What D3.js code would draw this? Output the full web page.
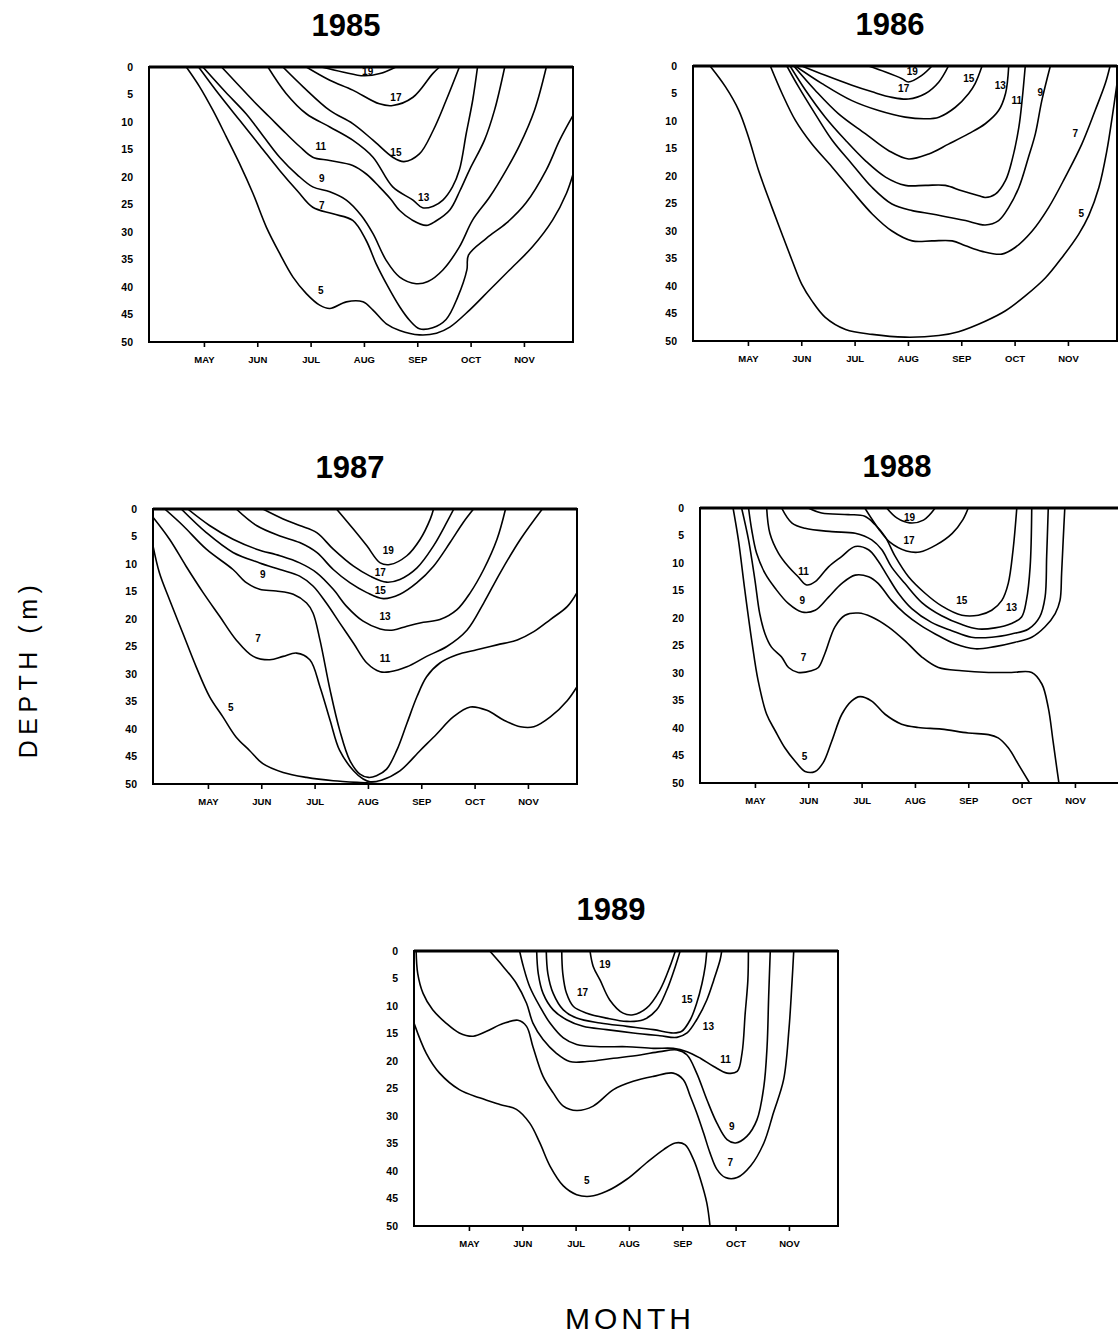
<!DOCTYPE html>
<html>
<head>
<meta charset="utf-8">
<script src="https://cdn.jsdelivr.net/npm/d3@7/dist/d3.min.js"></script>
<style>
  html, body { margin: 0; padding: 0; background: #fff; }
  svg { display: block; }
</style>
</head>
<body>
<svg id="chart" width="1118" height="1337"></svg>
<script>
// ---------- shared axis data ----------
const monthLabels = ["MAY", "JUN", "JUL", "AUG", "SEP", "OCT", "NOV"];
const monthTicks = [5, 6, 7, 8, 9, 10, 11];          // month number (May = 5)
const monthDomain = [3.97, 11.92];                     // Apr 1 .. end of Nov
const depthTicks = [0, 5, 10, 15, 20, 25, 30, 35, 40, 45, 50];
const depthDomain = [0, 50];
const years = [1985, 1986, 1987, 1988, 1989];

// ---------- isotherms, [month, depth m] ----------
// 1985
const y1985_t5 = [[4.67,0],[4.92,3.6],[5.17,7.9],[5.42,12.7],[5.67,17.6],[5.92,23.0],[6.17,29.1],[6.42,33.9],[6.67,38.2],[6.92,41.2],[7.17,43.3],[7.36,43.9],[7.67,42.7],[7.98,42.7],[8.17,44.2],[8.42,46.7],[8.67,47.9],[9.04,48.7],[9.36,48.4],[9.61,47.3],[9.98,44.2],[10.36,40.5],[10.73,36.9],[11.16,32.7],[11.54,27.8],[11.80,22.9],[11.92,19.5]];
const y1985_t7 = [[4.90,0],[5.30,5.2],[5.67,9.7],[6.05,14.3],[6.42,18.8],[6.75,22.5],[7.04,25.5],[7.42,26.7],[7.79,27.9],[8.04,31.5],[8.23,35.8],[8.42,39.4],[8.67,43.6],[8.86,46.1],[9.04,47.6],[9.29,47.4],[9.54,45.9],[9.76,41.8],[9.93,36.9],[9.96,34.2],[10.30,31.1],[10.67,28.4],[11.04,24.7],[11.42,18.7],[11.67,13.3],[11.92,8.8]];
const y1985_t9 = [[4.98,0],[5.40,4.5],[5.79,8.5],[6.10,12.4],[6.42,16.4],[6.75,19.6],[7.04,21.8],[7.36,22.7],[7.67,24.2],[7.95,27.0],[8.17,30.3],[8.42,35.2],[8.67,38.2],[8.98,39.4],[9.20,39.0],[9.48,36.9],[9.79,32.7],[10.04,27.8],[10.36,23.6],[10.67,18.7],[10.92,14.2],[11.20,7.8],[11.42,0]];
const y1985_t11 = [[5.33,0],[5.62,3.0],[5.92,6.1],[6.23,9.1],[6.54,12.1],[6.80,14.5],[7.04,16.4],[7.36,17.0],[7.79,17.9],[8.05,19.5],[8.29,21.8],[8.50,24.0],[8.67,26.1],[8.90,27.8],[9.17,28.8],[9.35,28.0],[9.61,26.0],[9.80,22.5],[9.98,18.7],[10.26,13.3],[10.45,7.8],[10.64,0]];
const y1985_t13 = [[6.20,0],[6.54,4.8],[6.92,8.5],[7.36,10.9],[7.79,13.3],[8.17,16.4],[8.54,21.8],[8.92,24.2],[9.10,25.6],[9.30,25.3],[9.48,24.2],[9.66,21.8],[9.79,18.7],[9.92,12.0],[10.04,6.0],[10.13,0]];
const y1985_t15 = [[6.48,0],[6.86,3.6],[7.36,7.9],[7.79,10.3],[8.17,13.3],[8.54,16.4],[8.75,17.2],[9.04,15.8],[9.30,11.5],[9.54,6.1],[9.79,0]];
const y1985_t17 = [[6.92,0],[7.36,2.4],[7.79,4.2],[8.29,6.7],[8.54,7.0],[8.92,5.5],[9.29,1.2],[9.42,0]];
const y1985_t19 = [[7.20,0],[7.60,0.9],[8.00,1.6],[8.30,1.2],[8.60,0]];
const y1985_labels = [[19,8.07,0.9],[17,8.60,5.5],[15,8.60,15.5],[13,9.12,23.8],[11,7.19,14.5],[9,7.21,20.2],[7,7.21,25.1],[5,7.19,40.7]];

// 1986
const y1986_t5 = [[4.29,0],[4.58,3.8],[4.83,8.1],[5.01,12.9],[5.20,19.0],[5.45,25.7],[5.64,30.6],[5.83,35.4],[6.01,39.7],[6.20,42.7],[6.45,45.7],[6.83,47.9],[7.33,48.8],[7.95,49.3],[8.58,49.0],[8.95,48.3],[9.45,46.4],[9.83,44.5],[10.20,41.8],[10.58,38.5],[10.89,34.8],[11.20,30.6],[11.39,27.2],[11.58,22.1],[11.73,15.4],[11.83,9.3],[11.92,3.2]];
const y1986_t7 = [[5.42,0],[5.64,5.0],[5.89,9.9],[6.20,14.2],[6.58,18.4],[6.95,22.7],[7.33,26.9],[7.70,30.0],[8.08,31.8],[8.45,31.8],[8.83,31.8],[9.08,32.7],[9.39,33.7],[9.76,34.2],[10.01,33.0],[10.33,30.0],[10.64,25.7],[10.95,20.2],[11.26,14.2],[11.51,8.1],[11.70,3.2],[11.79,0]];
const y1986_t9 = [[5.73,0],[5.95,3.8],[6.26,8.7],[6.58,13.5],[6.95,17.8],[7.33,22.1],[7.70,25.1],[8.08,26.3],[8.45,26.9],[8.76,27.5],[9.08,28.1],[9.45,28.9],[9.70,28.1],[9.89,25.7],[10.08,22.1],[10.26,16.6],[10.39,12.3],[10.51,6.3],[10.67,0]];
const y1986_t11 = [[5.79,0],[6.08,4.4],[6.45,9.3],[6.83,13.5],[7.20,17.2],[7.58,20.2],[7.95,21.7],[8.33,21.7],[8.70,21.7],[9.01,22.7],[9.33,23.6],[9.45,23.9],[9.64,23.3],[9.83,20.8],[9.95,17.2],[10.08,11.1],[10.14,6.3],[10.20,0]];
const y1986_t13 = [[5.86,0],[6.26,4.4],[6.70,8.7],[7.20,12.3],[7.64,15.4],[8.01,16.9],[8.39,16.0],[8.76,14.2],[9.14,12.3],[9.45,10.5],[9.70,8.1],[9.83,5.0],[9.89,0]];
const y1986_t15 = [[5.89,0],[6.39,3.2],[6.95,6.3],[7.45,8.1],[7.95,9.3],[8.33,9.6],[8.58,9.3],[8.89,7.5],[9.14,5.0],[9.26,3.2],[9.39,0]];
const y1986_t17 = [[6.01,0],[6.45,1.7],[6.95,3.5],[7.33,4.7],[7.70,5.7],[8.01,6.0],[8.33,5.0],[8.58,2.9],[8.76,0]];
const y1986_t19 = [[7.26,0],[7.58,1.1],[7.89,2.3],[8.01,2.9],[8.26,1.7],[8.45,0]];
const y1986_labels = [[19,8.08,1.0],[17,7.92,4.1],[15,9.14,2.3],[13,9.73,3.5],[11,10.04,6.3],[9,10.48,4.9],[7,11.14,12.3],[5,11.25,26.9]];

// 1987
const y1987_t5 = [[3.97,6.7],[4.09,11.6],[4.28,16.5],[4.53,22.6],[4.78,28.7],[5.03,34.1],[5.28,37.8],[5.53,41.5],[5.78,43.9],[6.03,46.3],[6.41,47.9],[6.85,48.8],[7.35,49.4],[7.98,49.8],[8.30,50]];
const y1987_t7 = [[3.97,1.5],[4.28,5.5],[4.59,10.4],[4.91,15.2],[5.22,19.5],[5.53,23.8],[5.85,26.8],[6.16,27.4],[6.41,26.8],[6.66,26.2],[6.91,27.4],[7.10,32.3],[7.29,38.4],[7.47,43.9],[7.73,47.6],[7.91,49.1],[8.04,49.6],[8.25,49.3],[8.60,47.6],[8.98,43.9],[9.29,40.9],[9.60,37.8],[9.92,36.0],[10.23,36.6],[10.55,38.4],[10.86,39.6],[11.11,39.6],[11.42,37.8],[11.74,34.8],[11.92,32.3]];
const y1987_t9 = [[4.19,0],[4.53,3.0],[4.97,7.3],[5.47,11.0],[5.72,13.4],[5.97,14.6],[6.28,14.9],[6.60,15.5],[6.85,17.1],[6.97,18.9],[7.10,23.8],[7.29,32.9],[7.47,40.2],[7.66,45.7],[7.85,48.2],[8.01,48.8],[8.16,48.5],[8.35,47.3],[8.54,43.9],[8.73,39.0],[8.92,34.1],[9.10,30.5],[9.35,28.0],[9.67,26.5],[10.04,25.6],[10.42,24.7],[10.80,23.8],[11.11,22.3],[11.42,20.1],[11.74,17.7],[11.92,15.2]];
const y1987_t11 = [[4.50,0],[4.97,4.3],[5.47,7.9],[5.97,9.8],[6.35,11.0],[6.72,12.2],[6.97,14.0],[7.22,17.1],[7.47,20.7],[7.73,24.4],[7.98,28.0],[8.23,29.6],[8.41,29.6],[8.73,28.7],[9.10,26.8],[9.48,25.0],[9.86,22.0],[10.17,17.1],[10.48,11.6],[10.86,5.5],[11.27,0]];
const y1987_t13 = [[4.62,0],[5.03,3.0],[5.47,5.5],[5.91,7.3],[6.35,8.5],[6.72,9.8],[7.04,11.6],[7.35,14.6],[7.60,17.7],[7.91,20.4],[8.23,21.8],[8.48,22.0],[8.73,21.3],[9.04,20.6],[9.35,20.1],[9.67,18.3],[9.92,15.2],[10.17,11.0],[10.42,5.5],[10.58,0]];
const y1987_t15 = [[5.53,0],[5.91,3.0],[6.35,4.9],[6.72,6.1],[7.04,7.9],[7.35,11.0],[7.66,13.4],[7.98,15.2],[8.29,16.3],[8.60,15.5],[8.92,13.4],[9.23,10.4],[9.54,6.1],[9.79,2.4],[9.98,0]];
const y1987_t17 = [[6.03,0],[6.41,1.8],[6.72,3.0],[7.04,4.3],[7.35,7.3],[7.73,10.4],[8.04,12.2],[8.35,13.3],[8.60,12.8],[8.92,10.7],[9.23,6.7],[9.48,2.4],[9.61,0]];
const y1987_t19 = [[7.41,0],[7.73,3.7],[7.98,6.7],[8.23,9.8],[8.41,10.1],[8.73,8.5],[8.98,5.5],[9.17,1.8],[9.23,0]];
const y1987_labels = [[19,8.38,7.6],[17,8.23,11.6],[15,8.23,14.8],[13,8.32,19.6],[11,8.32,27.1],[9,6.03,11.9],[7,5.94,23.5],[5,5.43,36.0]];

// 1988
const y1988_t5 = [[4.59,0],[4.69,5.8],[4.81,14.9],[4.94,24.1],[5.06,31.4],[5.22,37.5],[5.38,40.5],[5.56,43.6],[5.75,46.0],[5.94,47.9],[6.13,47.9],[6.28,46.3],[6.44,42.4],[6.63,37.5],[6.81,35.1],[6.97,34.3],[7.19,35.1],[7.44,37.5],[7.75,39.3],[8.06,39.9],[8.50,40.2],[9.00,40.9],[9.38,41.2],[9.56,41.8],[9.75,43.6],[9.94,46.6],[10.15,50]];
const y1988_t7 = [[4.75,0],[4.88,5.8],[5.00,13.1],[5.09,19.2],[5.19,22.9],[5.31,25.3],[5.50,27.1],[5.63,29.0],[5.81,29.9],[6.06,29.6],[6.19,29.0],[6.31,26.5],[6.50,21.6],[6.69,19.5],[6.94,19.1],[7.19,19.8],[7.50,21.6],[7.81,24.1],[8.13,27.1],[8.44,29.0],[8.88,29.6],[9.38,29.9],[9.81,29.9],[10.19,29.9],[10.38,32.0],[10.50,36.3],[10.59,42.4],[10.66,47.3],[10.70,50]];
const y1988_t9 = [[4.88,0],[4.94,4.0],[5.03,8.2],[5.19,11.9],[5.38,14.6],[5.63,17.4],[5.88,18.9],[6.13,18.6],[6.38,16.2],[6.63,13.7],[6.88,12.2],[7.13,12.5],[7.31,13.7],[7.56,16.8],[7.81,19.2],[8.10,21.3],[8.38,22.9],[8.75,24.7],[9.13,25.6],[9.50,25.2],[9.88,24.4],[10.19,23.5],[10.44,21.6],[10.63,19.2],[10.72,16.8],[10.75,11.9],[10.78,5.8],[10.81,0]];
const y1988_t11 = [[5.22,0],[5.28,4.6],[5.44,8.2],[5.63,10.7],[5.81,12.5],[5.97,14.0],[6.13,13.4],[6.38,10.7],[6.63,8.8],[6.88,7.0],[7.13,7.6],[7.30,9.5],[7.48,12.3],[7.69,15.5],[7.94,18.3],[8.31,20.8],[8.69,22.3],[9.06,23.5],[9.44,23.5],[9.81,22.9],[10.13,22.0],[10.34,19.8],[10.44,16.2],[10.47,8.8],[10.50,0]];
const y1988_t13 = [[5.50,0],[5.69,2.7],[5.94,3.7],[6.44,4.3],[6.88,4.6],[7.19,5.8],[7.38,7.6],[7.56,10.7],[7.81,13.7],[8.13,17.2],[8.50,19.6],[8.88,21.2],[9.19,22.0],[9.50,21.8],[9.81,21.0],[10.00,19.8],[10.09,16.8],[10.16,10.7],[10.19,0]];
const y1988_t15 = [[6.00,0],[6.25,0.9],[6.75,1.2],[7.06,1.5],[7.25,3.0],[7.44,5.2],[7.63,8.8],[7.88,12.5],[8.19,15.5],[8.50,17.8],[8.88,19.5],[9.19,19.5],[9.44,18.6],[9.63,16.8],[9.75,13.7],[9.84,7.6],[9.91,0]];
const y1988_t17 = [[7.06,0],[7.32,3.8],[7.53,6.2],[7.84,7.8],[8.09,8.0],[8.40,6.7],[8.70,4.6],[8.90,2.1],[9.00,0]];
const y1988_t19 = [[7.47,0],[7.66,1.8],[7.90,2.7],[8.16,2.2],[8.38,0]];
const y1988_labels = [[19,7.90,1.7],[17,7.89,5.9],[15,8.88,16.8],[13,9.81,18.0],[11,5.91,11.5],[9,5.89,16.9],[7,5.91,27.1],[5,5.93,45.1]];

// 1989
const y1989_t5 = [[3.97,13.1],[4.20,18.6],[4.45,22.2],[4.82,25.2],[5.20,26.7],[5.58,27.9],[5.89,28.8],[6.14,31.3],[6.33,34.9],[6.52,39.1],[6.77,42.7],[7.02,44.3],[7.27,44.6],[7.58,43.7],[7.96,41.5],[8.33,38.5],[8.65,36.1],[8.87,34.9],[9.05,35.2],[9.21,37.9],[9.34,41.5],[9.46,45.8],[9.52,50]];
const y1989_t7 = [[4.01,0],[4.04,4.1],[4.14,7.7],[4.32,10.7],[4.57,13.1],[4.82,14.9],[5.08,15.5],[5.33,14.6],[5.64,13.2],[5.92,12.6],[6.08,13.7],[6.20,17.4],[6.39,22.8],[6.58,25.8],[6.77,28.2],[7.02,29.0],[7.33,28.2],[7.71,25.2],[8.08,23.7],[8.46,22.8],[8.83,22.2],[9.02,23.4],[9.15,26.4],[9.27,29.4],[9.40,33.1],[9.52,36.7],[9.65,39.7],[9.81,41.2],[10.03,41.2],[10.28,39.1],[10.53,34.9],[10.71,29.4],[10.90,23.4],[11.00,14.3],[11.06,5.3],[11.09,0]];
const y1989_t9 = [[5.39,0],[5.64,2.8],[5.89,5.9],[6.08,9.5],[6.20,13.1],[6.39,16.1],[6.64,18.6],[6.89,20.1],[7.21,20.1],[7.71,19.5],[8.21,18.9],[8.58,18.3],[8.90,18.0],[9.09,18.9],[9.27,22.2],[9.46,27.0],[9.65,31.3],[9.84,34.3],[10.00,34.9],[10.21,33.7],[10.40,30.7],[10.53,24.6],[10.59,17.4],[10.62,8.3],[10.65,0]];
const y1989_t11 = [[5.95,0],[6.02,2.8],[6.14,6.5],[6.33,10.1],[6.52,13.1],[6.77,15.8],[7.02,17.0],[7.46,17.4],[7.96,17.4],[8.46,17.7],[8.83,17.7],[9.09,18.3],[9.34,19.5],[9.59,21.0],[9.84,22.2],[10.03,21.9],[10.12,18.6],[10.18,11.3],[10.23,5.3],[10.24,0]];
const y1989_t13 = [[6.27,0],[6.30,4.1],[6.39,7.7],[6.58,10.7],[6.83,12.5],[7.14,13.7],[7.58,14.3],[8.08,14.9],[8.58,15.4],[8.90,15.7],[9.09,14.9],[9.27,12.5],[9.46,8.9],[9.59,5.3],[9.71,1.6],[9.74,0]];
const y1989_t15 = [[6.45,0],[6.48,4.1],[6.58,7.7],[6.77,10.7],[7.02,12.2],[7.46,13.1],[7.96,13.7],[8.46,14.3],[8.83,14.9],[8.99,14.6],[9.15,12.5],[9.27,9.5],[9.37,5.9],[9.43,2.8],[9.46,0]];
const y1989_t17 = [[6.74,0],[6.76,4.1],[6.83,7.7],[6.96,10.1],[7.21,11.3],[7.58,12.2],[7.96,12.8],[8.27,12.5],[8.52,10.7],[8.71,7.1],[8.87,2.8],[8.96,0]];
const y1989_t19 = [[7.27,0],[7.33,2.8],[7.46,5.3],[7.64,8.9],[7.89,11.3],[8.08,11.6],[8.33,10.4],[8.58,7.1],[8.77,2.8],[8.87,0]];
const y1989_labels = [[19,7.55,2.4],[17,7.13,7.6],[15,9.09,8.9],[13,9.49,13.7],[11,9.81,19.8],[9,9.93,31.9],[7,9.90,38.5],[5,7.21,41.8]];

const isotherms = {
  1985: [y1985_t5, y1985_t7, y1985_t9, y1985_t11, y1985_t13, y1985_t15, y1985_t17, y1985_t19],
  1986: [y1986_t5, y1986_t7, y1986_t9, y1986_t11, y1986_t13, y1986_t15, y1986_t17, y1986_t19],
  1987: [y1987_t5, y1987_t7, y1987_t9, y1987_t11, y1987_t13, y1987_t15, y1987_t17, y1987_t19],
  1988: [y1988_t5, y1988_t7, y1988_t9, y1988_t11, y1988_t13, y1988_t15, y1988_t17, y1988_t19],
  1989: [y1989_t5, y1989_t7, y1989_t9, y1989_t11, y1989_t13, y1989_t15, y1989_t17, y1989_t19]
};
const isoLabels = {1985: y1985_labels, 1986: y1986_labels, 1987: y1987_labels, 1988: y1988_labels, 1989: y1989_labels};

// ---------- layout (pixels) ----------
const layout = {
  W: 424, H: 275,
  panels: {1985: [149, 67], 1986: [693, 66], 1987: [153, 509], 1988: [700, 508], 1989: [414, 951]}
};

const svg = d3.select("#chart");
const FONT = "'Liberation Sans', Arial, Helvetica, sans-serif";

const x = d3.scaleLinear().domain(monthDomain).range([0, layout.W]);
const y = d3.scaleLinear().domain(depthDomain).range([0, layout.H]);
const line = d3.line().x(d => x(d[0])).y(d => y(d[1])).curve(d3.curveCatmullRom.alpha(0.5));

years.forEach(yr => {
  const [px, py] = layout.panels[yr];
  const g = svg.append("g").attr("transform", `translate(${px},${py})`);

  svg.append("clipPath").attr("id", "clip" + yr)
    .append("rect").attr("x", 0).attr("y", 0).attr("width", layout.W).attr("height", layout.H);

  // title
  svg.append("text")
    .attr("x", px + layout.W / 2 - 15).attr("y", py - 31)
    .attr("text-anchor", "middle")
    .style("font-family", FONT).style("font-weight", "bold").style("font-size", "31px")
    .text(String(yr));

  // curves
  g.append("g").attr("clip-path", `url(#clip${yr})`)
    .selectAll("path").data(isotherms[yr]).join("path")
    .attr("d", line)
    .attr("fill", "none").attr("stroke", "#000").attr("stroke-width", 1.6)
    .attr("stroke-linejoin", "round");

  // labels
  g.selectAll("text.iso").data(isoLabels[yr]).join("text")
    .attr("class", "iso")
    .attr("x", d => x(d[1])).attr("y", d => y(d[2]))
    .attr("text-anchor", "middle").attr("dominant-baseline", "central")
    .style("font-family", FONT).style("font-weight", "bold").style("font-size", "10px")
    .text(d => d[0]);

  // frame
  g.append("rect").attr("x", 0).attr("y", 0).attr("width", layout.W).attr("height", layout.H)
    .attr("fill", "none").attr("stroke", "#000").attr("stroke-width", 2);
  g.append("line").attr("x1", 0).attr("x2", layout.W).attr("y1", 0).attr("y2", 0)
    .attr("stroke", "#000").attr("stroke-width", 3);

  // x axis
  const xa = g.append("g").attr("transform", `translate(0,${layout.H})`)
    .call(d3.axisBottom(x).tickValues(monthTicks).tickFormat((d, i) => monthLabels[i]).tickSize(5).tickPadding(9));
  xa.select(".domain").remove();
  xa.selectAll("line").attr("stroke-width", 1.6);
  xa.selectAll("text").style("font-family", FONT).style("font-weight", "bold").style("font-size", "9.5px");

  // y axis
  const ya = g.append("g")
    .call(d3.axisLeft(y).tickValues(depthTicks).tickSize(0).tickPadding(16));
  ya.select(".domain").remove();
  ya.selectAll("text").style("font-family", FONT).style("font-weight", "bold").style("font-size", "10.5px");
});

// axis titles
svg.append("text")
  .attr("transform", "translate(37,669) rotate(-90)")
  .attr("text-anchor", "middle")
  .style("font-family", FONT).style("font-size", "25px").style("letter-spacing", "5.5px")
  .text("DEPTH (m)");
svg.append("text")
  .attr("x", 630).attr("y", 1329)
  .attr("text-anchor", "middle")
  .style("font-family", FONT).style("font-size", "30px").style("letter-spacing", "4px")
  .text("MONTH");
</script>
</body>
</html>
